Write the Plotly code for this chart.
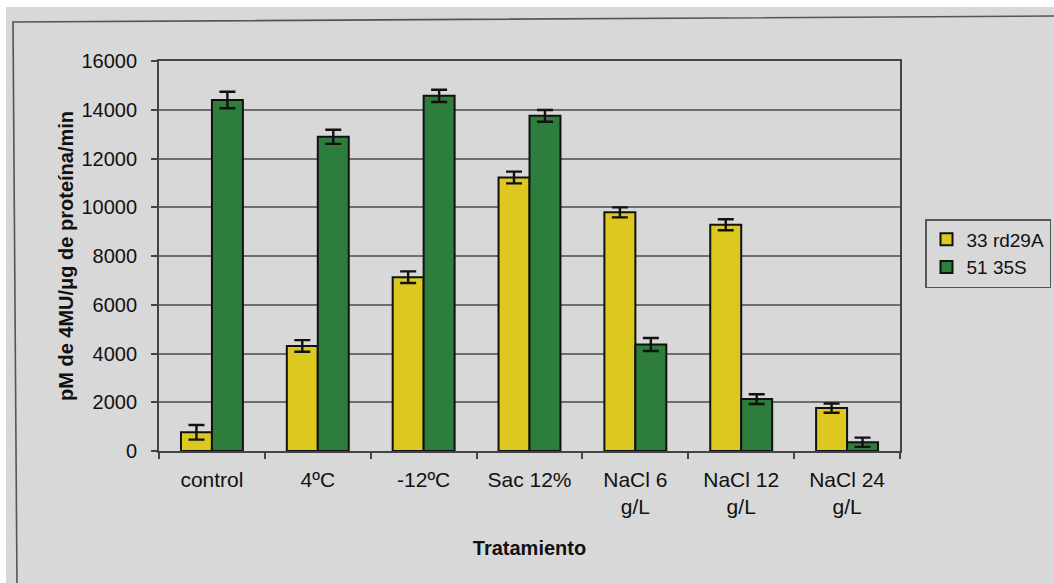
import plotly.graph_objects as go

# Treatments (x categories)
tratamientos = ["control", "4ºC", "-12ºC", "Sac 12%", "NaCl 6<br>g/L", "NaCl 12<br>g/L", "NaCl 24<br>g/L"]

# GUS activity (pM 4MU / µg protein / min) and standard errors per line
rd29a_vals = [765, 4310, 7130, 11220, 9790, 9280, 1760]
rd29a_err = [300, 240, 240, 240, 205, 225, 190]
s35_vals = [14400, 12890, 14570, 13750, 4370, 2130, 360]
s35_err = [340, 290, 250, 240, 265, 200, 190]

y_ticks = [0, 2000, 4000, 6000, 8000, 10000, 12000, 14000, 16000]

FONT = "Liberation Sans, Arial, sans-serif"
YELLOW = "#dcc81e"
GREEN = "#2d7d3c"
BG = "#d8d8d8"
PLOT_BG = "#dddddd"

err_style = dict(type="data", visible=True, color="#111111", thickness=2.4, width=8)

fig = go.Figure()
fig.add_trace(go.Bar(
    name="33 rd29A", x=tratamientos, y=rd29a_vals,
    error_y=dict(array=rd29a_err, **err_style),
    marker=dict(color=YELLOW, line=dict(color="#111111", width=2)),
))
fig.add_trace(go.Bar(
    name="51 35S", x=tratamientos, y=s35_vals,
    error_y=dict(array=s35_err, **err_style),
    marker=dict(color=GREEN, line=dict(color="#111111", width=2)),
))

# plot area geometry in pixels (used to place the page backdrop shapes)
L, R, T, B = 159, 900, 61, 451
W, H = 1054, 583


def px(xp):
    return (xp - L) / (R - L)


def py(yp):
    return (B - yp) / (B - T)


shapes = [
    # grey sheet behind the chart
    dict(type="rect", xref="paper", yref="paper", layer="below",
         x0=px(6), x1=px(W + 10), y0=py(H + 10), y1=py(7),
         fillcolor=BG, line=dict(width=0)),
    # outer chart frame (left and top edges)
    dict(type="path", xref="paper", yref="paper", layer="below",
         path=f"M {px(17)},{py(H + 5)} L {px(13)},{py(22)} L {px(W + 5)},{py(16)}",
         line=dict(color="#555555", width=1.6)),
]

fig.update_layout(
    width=W, height=H,
    margin=dict(l=L, r=W - R, t=T, b=H - B, autoexpand=False),
    paper_bgcolor="white",
    plot_bgcolor=PLOT_BG,
    barmode="group",
    bargap=0.415,
    bargroupgap=0,
    font=dict(family=FONT, size=20, color="#111111"),
    shapes=shapes,
    legend=dict(
        x=px(925), y=py(219), xanchor="left", yanchor="top",
        bgcolor=BG, bordercolor="#555555", borderwidth=1.5,
        font=dict(family=FONT, size=19, color="#111111"),
        itemwidth=30, tracegroupgap=0,
    ),
    xaxis=dict(
        type="category",
        showline=True, linecolor="#444444", linewidth=1.8, mirror=True,
        ticks="outside", tickson="boundaries", ticklen=6, tickcolor="#444444", tickwidth=1.5,
        tickfont=dict(family=FONT, size=21, color="#111111"),
        ticklabelstandoff=9,
        title=dict(text="<b>Tratamiento</b>", font=dict(family=FONT, size=20), standoff=24),
    ),
    yaxis=dict(
        range=[0, 16000], tickvals=y_ticks, tickformat="d",
        showline=True, linecolor="#444444", linewidth=1.8, mirror=True,
        showgrid=True, gridcolor="#6e6e6e", gridwidth=1.5,
        ticks="outside", ticklen=6, tickcolor="#444444", tickwidth=1.5,
        tickfont=dict(family=FONT, size=20, color="#111111"),
        ticklabelstandoff=10,
        zeroline=False,
        title=dict(text="<b>pM de 4MU/μg de proteína/min</b>", font=dict(family=FONT, size=20), standoff=2),
    ),
)

fig.write_html("out.html")
